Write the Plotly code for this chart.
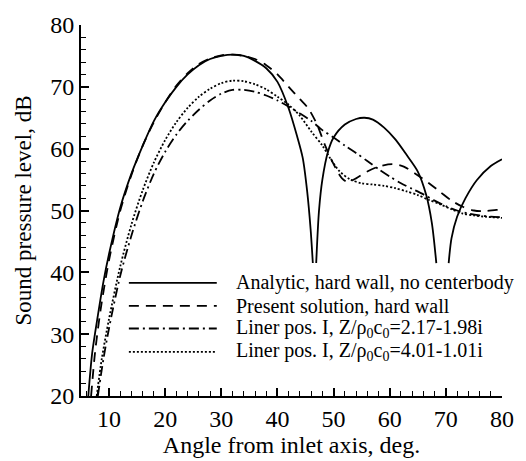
import plotly.graph_objects as go

# ---------------- data ----------------
analytic_x = [6.3, 7, 8, 9, 10, 12, 14, 16, 18, 20, 22, 24, 26, 28, 30, 32, 34, 36, 38, 40,
              42, 43.5, 44.5, 45.3, 45.9, 46.3, None,
              46.9, 47.4, 48, 49, 50, 52, 54, 55.5, 57, 59, 61, 63, 65, 66.5, 67.5, 68.3, None,
              70.5, 71, 72, 73.5, 75.5, 78, 80]
analytic_y = [20, 27, 33, 38.5, 43, 50.5, 56, 60.5, 64.5, 67.5, 70, 72, 73.5, 74.5, 75, 75.2, 75, 74.2, 73, 70.8,
              66.5, 62, 58.5, 53, 47, 41.5, None,
              41.5, 50, 55, 59.5, 61.8, 63.9, 64.8, 65, 64.7, 63.4, 61.5, 59, 56.3, 52.5, 48, 41.5, None,
              41.5, 45.5, 49, 52, 54.9, 57.2, 58.3]

present_x = [6.8, 7.5, 8.5, 10, 12, 14, 16, 18, 20, 22, 24, 26, 28, 30, 32, 34, 36, 38, 40,
             42, 44, 45.5, 47, 48.5, 50, 51.5, 52.5, 54, 56, 58, 60.5, 62.5, 64.5, 67, 69, 71, 73, 75, 77, 79, 80]
present_y = [20, 27, 34, 42, 50, 55.8, 60.5, 64.3, 67.5, 70.2, 72.2, 73.7, 74.6, 75.1, 75.2, 75, 74.5, 73.5, 72,
             70, 68, 66.5, 64, 60.5, 57.5, 55.2, 54.6, 55.2, 56.3, 57.1, 57.5, 57.1, 56, 54.4, 53, 51.6, 50.6, 50, 49.9, 50.1, 50.1]

liner1_x = [8, 9, 10, 12, 14, 16, 18, 20, 22, 24, 26, 28, 30, 32, 34, 36, 38, 40, 42, 44, 46, 48,
            50, 52, 54, 56, 58, 60, 62, 64, 66, 68, 70, 72, 74, 76, 78, 80]
liner1_y = [20, 26, 31, 39.5, 46, 51.5, 56, 59.5, 62.3, 64.5, 66.3, 67.8, 68.9, 69.5, 69.5, 69.2, 68.6, 67.8,
            66.8, 65.7, 64.5, 63, 61.8, 60.5, 59.3, 58, 56.7, 55.5, 54.4, 53.5, 52.6, 51.6, 50.7, 50, 49.5, 49.2, 49, 48.9]

liner2_x = [7.8, 8.7, 10, 12, 14, 16, 18, 20, 22, 24, 26, 28, 30, 32, 34, 36, 38, 40, 42, 44, 46, 48,
            49.5, 51, 53, 55, 57, 59, 61, 63, 65, 67, 69, 71, 73, 75, 77, 80]
liner2_y = [20, 26, 32.5, 41, 47.8, 53.3, 57.8, 61.4, 64.3, 66.6, 68.4, 69.7, 70.6, 71, 70.9, 70.4, 69.6, 68.4,
            67.1, 65.3, 62.8, 60.5, 58.3, 56.4, 55, 54.4, 54.2, 54, 53.6, 53.1, 52.5, 51.7, 51, 50.2, 49.5, 49.2, 49, 48.8]

series_names = [
    "Analytic, hard wall, no centerbody",
    "Present solution, hard wall",
    "Liner pos. I, Z/ρ<sub>0</sub>c<sub>0</sub>=2.17-1.98i",
    "Liner pos. I, Z/ρ<sub>0</sub>c<sub>0</sub>=4.01-1.01i",
]

x_title = "Angle from inlet axis, deg."
y_title = "Sound pressure level, dB"

# ---------------- styles ----------------
FONT = "Liberation Serif"
dashes = ["solid", "10px,7px", "10px,4px,2px,4px", "2px,2px"]
widths = [1.8, 1.8, 1.8, 1.8]

fig = go.Figure()
for xs, ys, dsh, w in zip([analytic_x, present_x, liner1_x, liner2_x],
                          [analytic_y, present_y, liner1_y, liner2_y], dashes, widths):
    fig.add_trace(go.Scatter(x=xs, y=ys, mode="lines", showlegend=False,
                             line=dict(color="black", width=w, dash=dsh, shape="spline", smoothing=0.8),
                             connectgaps=False, cliponaxis=True))

# custom legend (long line samples)
leg_rows = [0.305, 0.243, 0.182, 0.119]
for name, dsh, w, yy in zip(series_names, dashes, widths, leg_rows):
    fig.add_shape(type="line", xref="paper", yref="paper", x0=0.1137, x1=0.3225, y0=yy, y1=yy,
                  line=dict(color="black", width=w, dash=dsh))
    fig.add_annotation(xref="paper", yref="paper", x=0.3643, y=yy, text=name, showarrow=False,
                       xanchor="left", yanchor="middle", font=dict(family=FONT, size=20, color="black"))

fig.update_layout(
    width=526, height=461,
    margin=dict(l=81, r=14, t=14, b=54),
    paper_bgcolor="white", plot_bgcolor="white",
    font=dict(family=FONT, size=23, color="black"),
    showlegend=False,
)
fig.update_xaxes(range=[5, 80], dtick=10, tick0=0, ticks="inside", ticklen=8, tickwidth=1.5,
                 tickcolor="black", showline=True, linecolor="black", linewidth=2, showgrid=False,
                 zeroline=False, tickfont=dict(family=FONT, size=24),
                 minor=dict(dtick=2, tick0=0, ticks="inside", ticklen=5, tickwidth=1, tickcolor="black"),
                 title=dict(text=x_title, font=dict(family=FONT, size=24), standoff=0))
fig.update_yaxes(range=[20, 80], dtick=10, tick0=0, ticks="inside", ticklen=8, tickwidth=1.5,
                 tickcolor="black", showline=True, linecolor="black", linewidth=2, showgrid=False,
                 zeroline=False, tickfont=dict(family=FONT, size=24),
                 minor=dict(dtick=2, tick0=0, ticks="inside", ticklen=5, tickwidth=1, tickcolor="black"),
                 title=dict(text=y_title, font=dict(family=FONT, size=23), standoff=12))

fig.write_html("out.html")
